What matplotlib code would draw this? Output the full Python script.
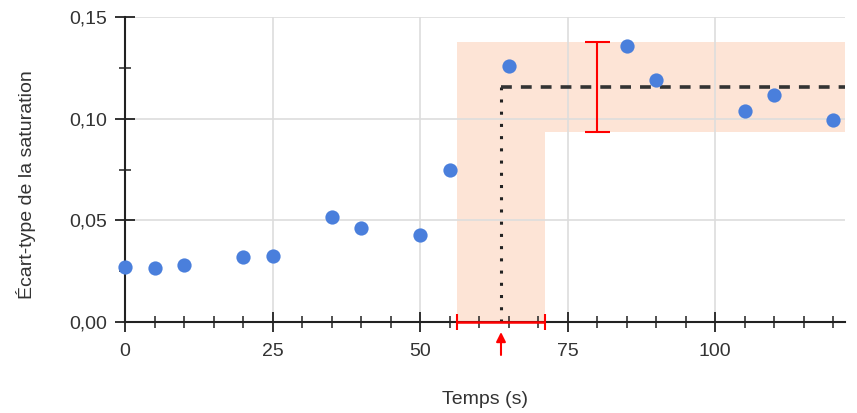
import matplotlib
matplotlib.use("Agg")
import matplotlib.pyplot as plt
import matplotlib.ticker as ticker

plt.rcParams['font.family'] = ['Liberation Sans', 'DejaVu Sans']

# données
temps = [0, 5, 10, 20, 25, 35, 40, 50, 55, 65, 85, 90, 105, 110, 120]
ecart = [0.0271, 0.0266, 0.0280, 0.0320, 0.0325, 0.0516, 0.0462, 0.0428,
         0.0748, 0.1260, 0.1358, 0.1190, 0.1038, 0.1117, 0.0994]

t_transition = 63.7     # temps de transition (s)
dt_transition = 7.5     # incertitude sur le temps
palier = 0.1156         # valeur du palier
dpalier = 0.0222        # incertitude sur le palier
x_max = 122
x_barre = 80            # position de la barre d'erreur verticale

fig = plt.figure(figsize=(8.57, 4.13), dpi=100)
ax = fig.add_axes([0.146, 0.220, 0.840, 0.739])

peche = "#fde4d6"
ax.axvspan(t_transition - dt_transition, t_transition + dt_transition,
           ymin=0, ymax=(palier + dpalier) / 0.15, color=peche, zorder=0, lw=0)
ax.fill_between([t_transition + dt_transition, x_max], palier - dpalier, palier + dpalier,
                color=peche, zorder=0, lw=0)

ax.scatter(temps, ecart, s=105, color="#4a7fdc", zorder=4, clip_on=False, lw=0)

ax.plot([t_transition, t_transition], [0, palier], ls=(0, (1, 3)), color="#222222", lw=2.2, zorder=3)
ax.plot([t_transition, x_max], [palier, palier], ls=(0, (3, 2.5)), color="#333333", lw=2.6, zorder=3)

ax.errorbar([x_barre], [palier], yerr=[dpalier], fmt="none", ecolor="red", capsize=9,
            elinewidth=1.5, capthick=1.5, zorder=5)
ax.errorbar([t_transition], [0], xerr=[dt_transition], fmt="none", ecolor="red", capsize=6,
            elinewidth=1.8, capthick=1.5, zorder=5, clip_on=False)
ax.annotate("", xy=(t_transition, -0.0035), xytext=(t_transition, -0.0175),
            arrowprops=dict(arrowstyle="-|>", color="red", lw=1.5, mutation_scale=14),
            annotation_clip=False)

ax.set_xlim(0, x_max)
ax.set_ylim(0, 0.15)
ax.xaxis.set_major_locator(ticker.MultipleLocator(25))
ax.xaxis.set_minor_locator(ticker.MultipleLocator(5))
ax.yaxis.set_major_locator(ticker.MultipleLocator(0.05))
ax.yaxis.set_minor_locator(ticker.MultipleLocator(0.025))
ax.yaxis.set_major_formatter(ticker.FuncFormatter(lambda v, p: f"{v:.2f}".replace(".", ",")))

ax.grid(True, which="major", color="#dddddd", lw=1.2, zorder=1)
ax.set_axisbelow(True)
for s in ["top", "right"]:
    ax.spines[s].set_visible(False)
ax.spines["left"].set_linewidth(1.5)
ax.spines["bottom"].set_linewidth(1.5)
ax.spines["left"].set_color("#222222")
ax.spines["bottom"].set_color("#222222")
ax.tick_params(which="major", direction="inout", length=14, width=1.3, labelsize=14,
               colors="#222222", labelcolor="#333333")
ax.tick_params(which="minor", direction="inout", length=8, width=1.1, colors="#222222")
ax.tick_params(axis="x", which="major", pad=8)
ax.tick_params(axis="y", which="major", pad=6)

ax.set_xlabel("Temps (s)", fontsize=14, color="#333333")
ax.set_ylabel("Écart-type de la saturation", fontsize=14, color="#333333")
ax.xaxis.set_label_coords((485 - 125) / 720, (322 - 391) / 305)
ax.yaxis.set_label_coords((36 - 125) / 720, (322 - 185) / 305)

fig.savefig("out.png", dpi=100)
